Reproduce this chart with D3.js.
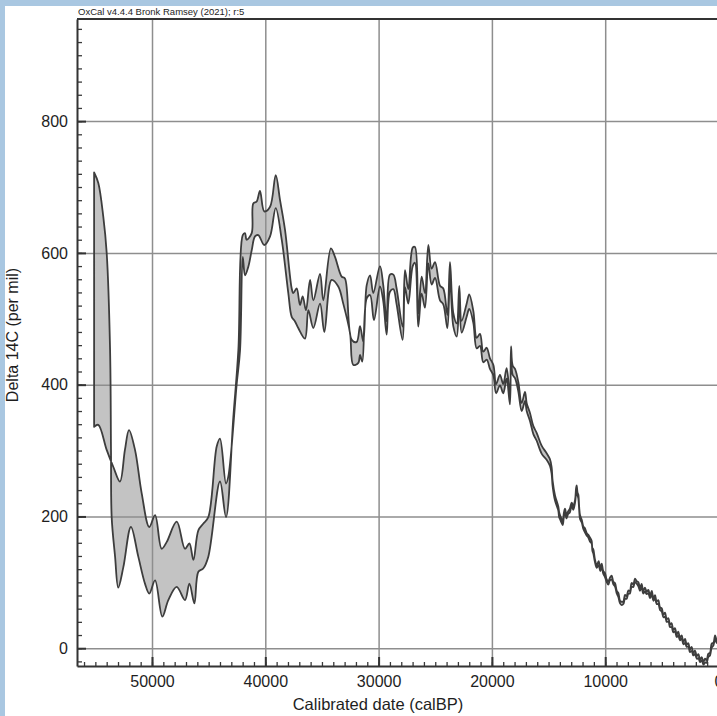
<!DOCTYPE html>
<html>
<head>
<meta charset="utf-8">
<script src="https://cdn.jsdelivr.net/npm/d3@7"></script>
<style>
  html, body { margin: 0; padding: 0; background: #a9c7e1; }
  svg { display: block; }
  text { font-family: "Liberation Sans", Arial, sans-serif; fill: #1e1e1e; }
</style>
</head>
<body>
<script>
// x ticks (calBP) and y ticks (Delta 14C)
const xTicks = [50000, 40000, 30000, 20000, 10000, 0];
const yTicks = [0, 200, 400, 600, 800];

// early part of the curve: the two 1-sigma edges read separately [calBP, D14C]
const earlyEdgeA = [
  [55110, 722], [54740, 706], [54300, 655], [54000, 600], [53700, 452], [53620, 301],
  [53560, 199], [53260, 139], [52980, 92], [52530, 123], [51860, 184], [51210, 139],
  [50620, 98], [50240, 83], [49730, 103], [49090, 48], [48560, 73], [47820, 93],
  [47090, 73], [46700, 98], [46260, 68], [45910, 116], [45480, 121], [45030, 139],
  [44000, 253], [43470, 199], [42820, 351], [42380, 452], [41990, 627], [41790, 630],
  [41650, 620], [41200, 630], [41060, 675], [40760, 678], [40470, 694], [40090, 663],
  [39580, 670], [39080, 718], [38700, 680], [38260, 635], [37670, 546], [37530, 539],
  [37230, 546], [36940, 521], [36700, 534], [36410, 513], [36050, 559], [35760, 528],
  [35170, 568], [34880, 528], [34210, 607], [33850, 594], [33260, 564], [32970, 561],
  [32370, 468], [31930, 465], [31640, 489], [31350, 465], [31050, 551], [30750, 566],
  [30470, 539], [29880, 580]
];
const earlyEdgeB = [
  [55110, 336], [54740, 339], [54000, 301], [53410, 275], [52830, 253], [52390, 301],
  [52030, 331], [51500, 301], [50910, 235], [50240, 184], [49730, 202], [49150, 151],
  [48710, 161], [47820, 192], [47090, 151], [46700, 159], [46350, 134], [45910, 179],
  [45480, 189], [45030, 199], [44290, 306], [44000, 318], [43470, 250], [43270, 260],
  [42520, 402], [42230, 452], [41990, 594], [41790, 566], [41500, 579], [41200, 604],
  [40910, 625], [40620, 627], [40090, 612], [39580, 625], [39080, 668], [38550, 620],
  [37970, 539], [37670, 503], [37380, 496], [37090, 486], [36500, 470], [36200, 513],
  [35760, 486], [35170, 523], [34790, 480], [34150, 559], [33560, 549], [33120, 523],
  [32520, 478], [32230, 430], [31790, 433], [31640, 445], [31440, 435], [31050, 531],
  [30750, 536], [30410, 498], [29880, 549]
];

// later part: mean and 1-sigma
const lateBP = [
  29590, 29290, 29000, 28700, 28410, 27880, 27670, 27380, 26990, 26790, 26500, 26200,
  25910, 25610, 25320, 25020, 24580, 24290, 23930, 23700, 23400, 23100, 22880, 22670,
  22230, 22000, 21640, 21340, 21050, 20760, 20460, 20170, 19870, 19630, 19290, 19000,
  18700, 18410, 18310, 18170, 17960, 17670, 17370, 17080, 16930, 16640, 16340, 16050,
  15600, 15170, 14880, 14730, 14640, 14430, 14140, 14070, 13990, 13870, 13750, 13660,
  13550, 13420, 13260, 13120, 12960, 12820, 12660, 12570, 12520, 12440, 12370, 12300,
  12220, 12070, 11930, 11790, 11640, 11490, 11350, 11200, 11130, 11050, 10910, 10750,
  10580, 10430, 10310, 10170, 10020, 9880, 9730, 9580, 9430, 9280, 9130, 8980,
  8840, 8690, 8540, 8400, 8250, 8110, 7960, 7820, 7670, 7520, 7370, 7220,
  7070, 6930, 6790, 6640, 6490, 6340, 6190, 6050, 5890, 5750, 5600, 5460,
  5310, 5160, 5010, 4860, 4720, 4570, 4420, 4280, 4140, 3990, 3840, 3690,
  3550, 3400, 3250, 3100, 2950, 2810, 2660, 2520, 2370, 2220, 2070, 1920,
  1770, 1630, 1480, 1330, 1190, 1050, 900, 750, 600, 450, 300, 150, 0
];
const lateD14C = [
  539, 486, 554, 556, 534, 478, 561, 534, 594, 597, 498, 551,
  528, 598, 564, 574, 539, 534, 496, 574, 498, 483, 539, 488,
  513, 526, 503, 463, 468, 442, 447, 432, 422, 394, 407, 394,
  417, 377, 450, 422, 417, 397, 366, 382, 366, 351, 331, 321,
  301, 291, 282, 270, 250, 228, 212, 203, 199, 194, 189, 201,
  210, 200, 206, 209, 219, 213, 223, 240, 245, 234, 230, 213,
  199, 193, 183, 179, 173, 170, 165, 161, 150, 147, 133, 124,
  129, 119, 126, 115, 111, 103, 99, 105, 107, 99, 96, 85,
  81, 70, 68, 69, 78, 77, 85, 85, 96, 95, 103, 100,
  97, 89, 95, 85, 89, 84, 86, 78, 84, 74, 78, 69,
  70, 60, 58, 49, 51, 42, 43, 34, 35, 26, 28, 19,
  22, 14, 17, 8, 11, 4, 5, -4, -1, -9, -6, -14,
  -12, -19, -16, -23, -19, -20, -11, -9, 4, 6, 17, 10, 9
];
const lateSigma = [
  12, 10, 13, 11, 12, 10, 13, 11, 14, 12, 10, 13,
  11, 14, 12, 12, 11, 12, 10, 12, 10, 10, 11, 9,
  10, 11, 9, 8, 9, 8, 9, 8, 8, 7, 8, 7,
  8, 7, 8, 7, 7, 7, 6, 7, 6, 6, 6, 6,
  6, 5, 5, 5, 4, 4, 3, 4, 3, 3, 2, 3,
  2, 3, 2, 3, 2, 3, 2, 3, 2, 2, 3, 2,
  3, 2, 2, 3, 2, 2, 3, 2, 2, 3, 2, 2,
  3, 2, 2.5, 2, 3, 2, 2.5, 2, 3, 2, 2.5, 2,
  3, 2, 2.5, 2, 3, 2, 2.5, 2, 3, 2, 2.5, 2,
  3, 2, 2.5, 2, 3, 2, 2.5, 2, 3, 2, 2.5, 2,
  3, 2, 2.5, 2, 3, 2, 2.5, 2, 3, 2, 2.5, 2,
  3, 2, 2.5, 2, 3, 2, 2.5, 2, 3, 2, 2.5, 2,
  3, 2, 2.5, 2, 3, 2, 2.5, 2, 3, 2, 2.5, 2, 2
];

const width = 717, height = 716;
const plotLeft = 77, plotTop = 19, plotBottom = 666, plotRight = 718.5;

const svg = d3.select('body').append('svg')
  .attr('width', width)
  .attr('height', height);

svg.append('rect')
  .attr('x', 5).attr('y', 6)
  .attr('width', width - 5).attr('height', height - 6)
  .attr('fill', '#fff');

const x = d3.scaleLinear().domain([56620, 0]).range([plotLeft, plotRight]);
const y = d3.scaleLinear().domain([-27, 955]).range([plotBottom, plotTop]);

svg.append('clipPath').attr('id', 'plot')
  .append('rect')
  .attr('x', plotLeft).attr('y', plotTop)
  .attr('width', plotRight - plotLeft + 5).attr('height', plotBottom - plotTop);

let edgeA = earlyEdgeA.concat(lateBP.map((t, i) => [t, lateD14C[i] + lateSigma[i]]));
let edgeB = earlyEdgeB.concat(lateBP.map((t, i) => [t, lateD14C[i] - lateSigma[i]]));

const line = d3.line()
  .x(d => x(d[0]))
  .y(d => y(d[1]))
  .curve(d3.curveCatmullRom.alpha(0.5));

const bandPath = line(edgeA) + 'L' + line(edgeB.slice().reverse()).slice(1) + 'Z';

const plot = svg.append('g').attr('clip-path', 'url(#plot)');

plot.append('path')
  .attr('d', bandPath)
  .attr('fill', '#c3c3c3')
  .attr('stroke', 'none');

// grid
plot.append('g')
  .attr('transform', `translate(0, ${plotBottom})`)
  .call(d3.axisBottom(x).tickValues(xTicks).tickSize(-(plotBottom - plotTop)).tickFormat(''))
  .call(g => g.select('.domain').remove())
  .call(g => g.selectAll('line').attr('stroke', '#8e8e8e').attr('stroke-width', 1.5));

plot.append('g')
  .attr('transform', `translate(${plotLeft}, 0)`)
  .call(d3.axisLeft(y).tickValues(yTicks).tickSize(-(plotRight - plotLeft)).tickFormat(''))
  .call(g => g.select('.domain').remove())
  .call(g => g.selectAll('line').attr('stroke', '#8e8e8e').attr('stroke-width', 1.5));

plot.append('path')
  .attr('d', bandPath)
  .attr('fill', 'none')
  .attr('stroke', '#3d3d3d')
  .attr('stroke-width', 1.8)
  .attr('stroke-linejoin', 'round');

// minor ticks
svg.append('g')
  .attr('transform', `translate(0, ${plotBottom})`)
  .call(d3.axisBottom(x).tickValues(d3.range(0, 56001, 1000)).tickSize(-4).tickSizeOuter(0).tickFormat(''))
  .call(g => g.select('.domain').remove())
  .call(g => g.selectAll('line').attr('stroke', '#3a3a3a').attr('stroke-width', 1.3));

svg.append('g')
  .attr('transform', `translate(${plotLeft}, 0)`)
  .call(d3.axisLeft(y).tickValues(d3.range(-20, 941, 20)).tickSize(-5).tickSizeOuter(0).tickFormat(''))
  .call(g => g.select('.domain').remove())
  .call(g => g.selectAll('line').attr('stroke', '#3a3a3a').attr('stroke-width', 1.3));

// major ticks and labels
const xAxis = svg.append('g')
  .attr('transform', `translate(0, ${plotBottom})`)
  .call(d3.axisBottom(x).tickValues(xTicks).tickSize(-9).tickSizeOuter(0).tickPadding(10).tickFormat(d3.format('d')));
xAxis.select('.domain').attr('stroke', '#333').attr('stroke-width', 2);
xAxis.selectAll('line').attr('stroke', '#333').attr('stroke-width', 2);
xAxis.selectAll('text').attr('font-size', 16).attr('fill', '#1e1e1e');

const yAxis = svg.append('g')
  .attr('transform', `translate(${plotLeft}, 0)`)
  .call(d3.axisLeft(y).tickValues(yTicks).tickSize(-9).tickSizeOuter(0).tickPadding(9));
yAxis.select('.domain').attr('stroke', '#333').attr('stroke-width', 2);
yAxis.selectAll('line').attr('stroke', '#333').attr('stroke-width', 2);
yAxis.selectAll('text').attr('font-size', 16).attr('fill', '#1e1e1e');

// top frame line
svg.append('line')
  .attr('x1', plotLeft).attr('x2', width)
  .attr('y1', plotTop).attr('y2', plotTop)
  .attr('stroke', '#333').attr('stroke-width', 2);

svg.append('text')
  .attr('x', plotLeft + 1).attr('y', 15)
  .attr('font-size', 9.5)
  .text('OxCal v4.4.4 Bronk Ramsey (2021); r:5');

svg.append('text')
  .attr('x', 378).attr('y', 710)
  .attr('text-anchor', 'middle')
  .attr('font-size', 16.5)
  .text('Calibrated date (calBP)');

svg.append('text')
  .attr('transform', 'translate(18, 335) rotate(-90)')
  .attr('text-anchor', 'middle')
  .attr('font-size', 16)
  .text('Delta 14C (per mil)');
</script>
</body>
</html>
